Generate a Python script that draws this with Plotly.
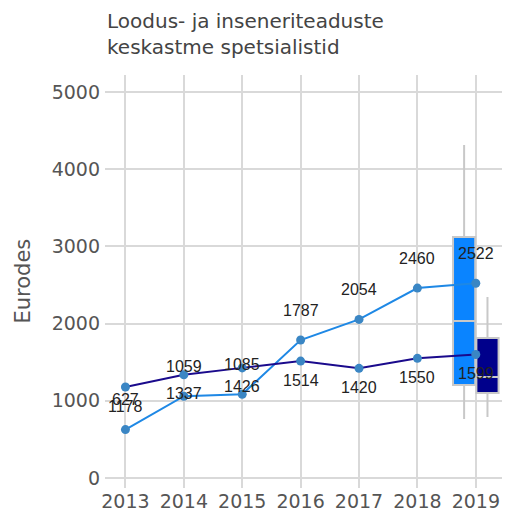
import plotly.graph_objects as go

years = [2013, 2014, 2015, 2016, 2017, 2018, 2019]
light_vals = [627, 1059, 1085, 1787, 2054, 2460, 2522]
dark_vals = [1178, 1337, 1426, 1514, 1420, 1550, 1599]

# 2019 distribution boxes
box_year = [2019]
light_box = dict(lowerfence=[764], q1=[1205], median=[2034], q3=[3122], upperfence=[4313])
dark_box = dict(lowerfence=[790], q1=[1101], median=[1308], q3=[1813], upperfence=[2345])

LIGHT = '#0a84ff'
DARK = '#00008b'
MARKER = '#3a86c4'
GRID = '#d9d9d9'
AXIS_FONT = 'DejaVu Sans'

fig = go.Figure()

fig.add_trace(go.Scatter(
    x=years, y=light_vals, mode='lines+markers',
    line=dict(color='#1e88e5', width=2),
    marker=dict(color=MARKER, size=9),
    showlegend=False, hoverinfo='x+y',
))
fig.add_trace(go.Scatter(
    x=years, y=dark_vals, mode='lines+markers',
    line=dict(color='#1a0a8c', width=2),
    marker=dict(color=MARKER, size=9),
    showlegend=False, hoverinfo='x+y',
))

fig.add_trace(go.Box(
    x=box_year, **light_box, offsetgroup='a',
    fillcolor=LIGHT, line=dict(color='#c8c8c8', width=2),
    whiskerwidth=0, showlegend=False,
))
fig.add_trace(go.Box(
    x=box_year, **dark_box, offsetgroup='b',
    fillcolor=DARK, line=dict(color='#c8c8c8', width=2),
    whiskerwidth=0, showlegend=False,
))

# value labels: light series above, dark series below
for x, v in zip(years, light_vals):
    fig.add_annotation(x=x, y=v, text=str(v), showarrow=False, yshift=30,
                       font=dict(family='Liberation Sans', size=16, color='#222'))
for x, v in zip(years, dark_vals):
    fig.add_annotation(x=x, y=v, text=str(v), showarrow=False, yshift=-19,
                       font=dict(family='Liberation Sans', size=16, color='#222'))

# title and y-axis label as annotations so they don't push margins
fig.add_annotation(text='Loodus- ja inseneriteaduste<br>keskastme spetsialistid',
                   xref='paper', yref='paper', x=0, y=1.165, xanchor='left', yanchor='top',
                   align='left', showarrow=False,
                   font=dict(family=AXIS_FONT, size=20, color='#444'))
fig.add_annotation(text='Eurodes', xref='paper', yref='paper', x=-0.2075, y=0.50,
                   xanchor='center', yanchor='middle',
                   textangle=-90, showarrow=False,
                   font=dict(family=AXIS_FONT, size=21, color='#555'))

# page body has an 8px margin, so the figure is sized/offset to compensate
fig.update_layout(
    width=502, height=512,
    paper_bgcolor='white', plot_bgcolor='white',
    font=dict(family=AXIS_FONT, color='#555'),
    boxmode='group', boxgap=0.2, boxgroupgap=0.05,
    margin=dict(l=97, r=5, t=67, b=32),
    xaxis=dict(range=[2012.65, 2019.5], tickvals=years, gridcolor=GRID, gridwidth=2,
               showline=False, zeroline=False, ticks='', automargin=False,
               tickfont=dict(size=19, color='#555')),
    yaxis=dict(range=[-130, 5220], tickvals=[0, 1000, 2000, 3000, 4000, 5000],
               gridcolor=GRID, gridwidth=2, zeroline=False, showline=False,
               automargin=False, ticklabelstandoff=4,
               tickfont=dict(size=19, color='#555')),
)

fig.write_html('out.html')
